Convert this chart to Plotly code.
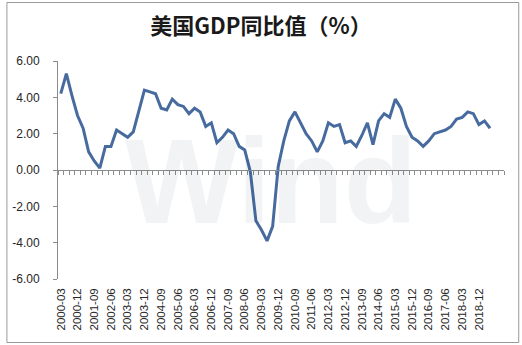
import plotly.graph_objects as go

# Quarterly US real GDP, year-over-year growth (%)
quarters = [f"{y}-{m}" for y in range(2000, 2020) for m in ("03", "06", "09", "12")]
gdp_yoy = [
    4.2, 5.3, 4.1, 3.0,
    2.3, 1.0, 0.5, 0.1,
    1.3, 1.3, 2.2, 2.0,
    1.8, 2.1, 3.3, 4.4,
    4.3, 4.2, 3.4, 3.3,
    3.9, 3.6, 3.5, 3.1,
    3.4, 3.2, 2.4, 2.6,
    1.5, 1.8, 2.2, 2.0,
    1.3, 1.1, -0.1, -2.8,
    -3.3, -3.9, -3.1, 0.2,
    1.6, 2.7, 3.2, 2.6,
    2.0, 1.6, 1.0, 1.6,
    2.6, 2.4, 2.5, 1.5,
    1.6, 1.3, 1.9, 2.6,
    1.4, 2.7, 3.1, 2.9,
    3.9, 3.4, 2.4, 1.8,
    1.6, 1.3, 1.6, 2.0,
    2.1, 2.2, 2.4, 2.8,
    2.9, 3.2, 3.1, 2.5,
    2.7, 2.3,
]
x_labels = quarters[0:76:3]
y_ticks = [-6, -4, -2, 0, 2, 4, 6]
y_labels = [f"{v:.2f}" for v in y_ticks]

W, H = 522, 345
L, R, T, B = 50, 18, 61, 66
axis_grey = "#8c8c8c"
line_blue = "#476b9e"


def px_x(px):
    return (px - L) / (W - L - R)


def px_y(py):
    return (H - B - py) / (H - T - B)


fig = go.Figure()
fig.add_trace(go.Scatter(
    x=quarters[:len(gdp_yoy)], y=gdp_yoy, mode="lines",
    line=dict(color=line_blue, width=3), showlegend=False,
    hoverinfo="x+y",
))
# carrier for the zero-line axis with category tick marks
fig.add_trace(go.Scatter(x=[None], y=[None], xaxis="x2", yaxis="y",
                         showlegend=False, hoverinfo="skip"))

n = len(quarters)
fig.update_layout(
    width=W, height=H,
    margin=dict(l=L, r=R, t=T, b=B),
    paper_bgcolor="white", plot_bgcolor="white",
    title=dict(
        text="<b>美国GDP同比值（%）</b>",
        font=dict(family="Noto Sans CJK SC", size=22, color="#1a1a1a"),
        x=0.5, xanchor="center", xref="container",
        y=1 - 26 / H, yanchor="middle", yref="container",
    ),
    xaxis=dict(
        type="category", categoryorder="array", categoryarray=quarters,
        range=[-0.5, n - 0.5], tickmode="array", tickvals=x_labels,
        ticks="", showline=False, showgrid=False, zeroline=False,
        tickangle=-90, ticklabelstandoff=6,
        tickfont=dict(family="Liberation Sans, Arial", size=11.5, color="#262626"),
    ),
    xaxis2=dict(
        overlaying="x", anchor="free", position=0.5, type="linear",
        range=[-0.5, n - 0.5], tickmode="linear", tick0=-0.5, dtick=1,
        ticks="outside", ticklen=4, tickcolor=axis_grey, tickwidth=1,
        showline=True, linecolor=axis_grey, linewidth=1,
        showticklabels=False, showgrid=False, zeroline=False,
    ),
    yaxis=dict(
        range=[-6, 6], tickmode="array", tickvals=y_ticks, ticktext=y_labels,
        ticks="outside", ticklen=4, tickcolor=axis_grey,
        showline=True, linecolor=axis_grey, linewidth=1,
        showgrid=False, zeroline=False, ticklabelstandoff=11,
        tickfont=dict(family="Liberation Sans, Arial", size=12, color="#262626"),
    ),
    annotations=[dict(
        text="<b>Wind</b>", xref="paper", yref="paper",
        x=px_x(267), y=px_y(181), xanchor="center", yanchor="middle",
        showarrow=False,
        font=dict(family="Liberation Sans, Arial", size=120, color="rgba(40,50,90,0.06)"),
    )],
    shapes=[dict(
        type="rect", xref="paper", yref="paper",
        x0=px_x(-2), x1=px_x(519), y0=px_y(342.5), y1=px_y(2.5),
        line=dict(color="#9a9a9a", width=1), layer="below",
    )],
)

fig.write_html("out.html")
